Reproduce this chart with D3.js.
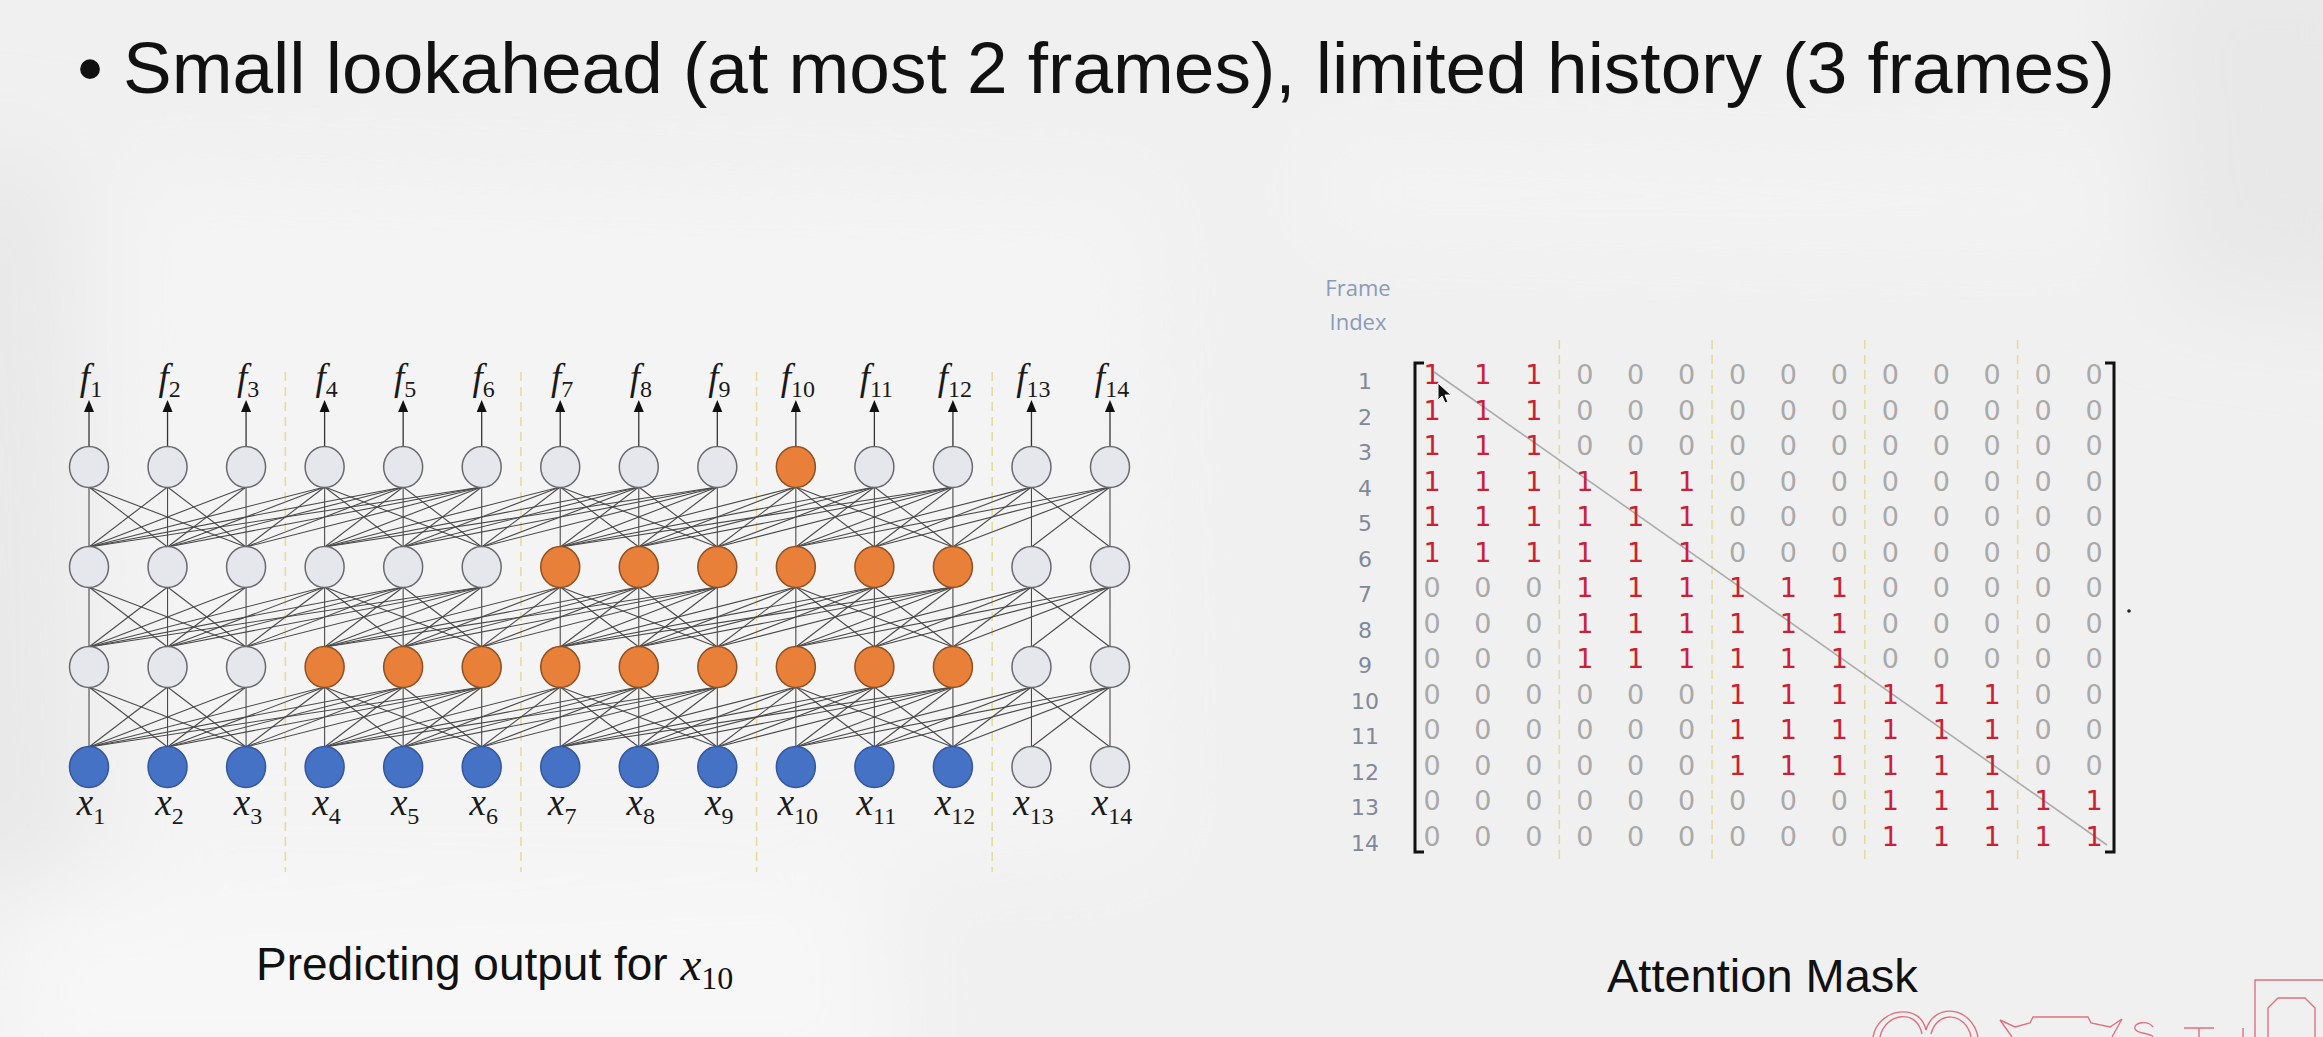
<!DOCTYPE html>
<html>
<head>
<meta charset="utf-8">
<script src="https://cdn.jsdelivr.net/npm/d3@7"></script>
<style>
  html, body { margin: 0; padding: 0; background: #f0f0f0; overflow: hidden; }
  svg { display: block; }
</style>
</head>
<body>
<div id="canvas-container"></div>
<script>
// frames and chunking (3 frames per chunk)
const frameIndex = [1, 2, 3, 4, 5, 6, 7, 8, 9, 10, 11, 12, 13, 14];
const chunkStarts = [4, 7, 10, 13];

// attention mask rows (1 = attend)
const maskRows = [
  "11100000000000",
  "11100000000000",
  "11100000000000",
  "11111100000000",
  "11111100000000",
  "11111100000000",
  "00011111100000",
  "00011111100000",
  "00011111100000",
  "00000011111100",
  "00000011111100",
  "00000011111100",
  "00000000011111",
  "00000000011111",
];

// node states per layer, bottom (input) to top: b = input used, o = used for x10, g = unused
const inputStates = "bbbbbbbbbbbbgg";
const hidden1States = "gggooooooooogg";
const hidden2States = "ggggggoooooogg";
const outputStates = "gggggggggogggg";
const layers = [inputStates, hidden1States, hidden2States, outputStates];

const titleText = "Small lookahead (at most 2 frames), limited history (3 frames)";
const leftCaption = "Predicting output for";
const rightCaption = "Attention Mask";

const W = 2323, H = 1037;
const fills = { b: "#4672c6", o: "#e9803a", g: "#e6e6ed" };
const strokes = { b: "#33569e", o: "#8e4f22", g: "#6a6a6e" };
const r = 20;

const svg = d3
  .select("#canvas-container")
  .append("svg")
  .attr("width", W)
  .attr("height", H);

// soft background variation (slide photo)
svg.append("defs")
  .append("filter")
  .attr("id", "soft")
  .attr("x", "-20%").attr("y", "-20%").attr("width", "140%").attr("height", "140%")
  .append("feGaussianBlur")
  .attr("stdDeviation", 45);
svg.append("rect").attr("width", W).attr("height", H).attr("fill", "#f0f0f0");
const bg = svg.append("g").attr("filter", "url(#soft)");
bg.append("path").attr("d", "M-60,150 L60,170 L70,880 L-60,900 Z").attr("fill", "#e8e8e8");
bg.append("path").attr("d", "M120,170 L1150,190 L1160,860 L130,880 Z").attr("fill", "#f4f4f4");
bg.append("path").attr("d", "M0,890 L880,870 L900,1100 L0,1100 Z").attr("fill", "#f7f7f7");
bg.append("path").attr("d", "M2140,-50 L2400,-50 L2400,320 L2170,290 Z").attr("fill", "#e8e8e8");
bg.append("path").attr("d", "M1320,150 L2120,170 L2110,240 L1320,230 Z").attr("fill", "#f4f4f4");

// title
svg.append("text")
  .attr("x", 90).attr("y", 93)
  .attr("text-anchor", "middle")
  .attr("font-family", "Liberation Sans, Arial, sans-serif")
  .attr("font-size", 73)
  .attr("fill", "#111")
  .text("\u2022");
svg.append("text")
  .attr("x", 123).attr("y", 93)
  .attr("font-family", "Liberation Sans, Arial, sans-serif")
  .attr("font-size", 73)
  .attr("fill", "#111")
  .text(titleText);

// ---------- network ----------
const xNet = d3.scaleLinear().domain([1, 14]).range([89, 1110]);
const yNet = d3.scalePoint().domain([0, 1, 2, 3]).range([767, 467]);

const net = svg.append("g");

// chunk separators
net.selectAll("line.sep")
  .data(chunkStarts)
  .enter()
  .append("line")
  .attr("class", "sep")
  .attr("x1", (d) => (xNet(d) + xNet(d - 1)) / 2)
  .attr("x2", (d) => (xNet(d) + xNet(d - 1)) / 2)
  .attr("y1", 372)
  .attr("y2", 872)
  .attr("stroke", "#e3dc9a")
  .attr("stroke-width", 1.6)
  .attr("stroke-dasharray", "9 6");

// edges from the mask: node i in layer l looks at node j in layer l-1
const edges = [];
for (let l = 1; l < layers.length; l++) {
  frameIndex.forEach((i) => {
    frameIndex.forEach((j) => {
      if (maskRows[i - 1][j - 1] === "1") edges.push({ l, i, j });
    });
  });
}

net.selectAll("line.edge")
  .data(edges)
  .enter()
  .append("line")
  .attr("class", "edge")
  .attr("x1", (d) => xNet(d.i))
  .attr("y1", (d) => yNet(d.l) + r)
  .attr("x2", (d) => xNet(d.j))
  .attr("y2", (d) => yNet(d.l - 1) - r)
  .attr("stroke", "#4a4a4a")
  .attr("stroke-width", 1.1);

// output arrows
net.selectAll("line.arrow")
  .data(frameIndex)
  .enter()
  .append("line")
  .attr("class", "arrow")
  .attr("x1", (d) => xNet(d))
  .attr("x2", (d) => xNet(d))
  .attr("y1", yNet(3) - r)
  .attr("y2", 410)
  .attr("stroke", "#333")
  .attr("stroke-width", 1.3);
net.selectAll("path.head")
  .data(frameIndex)
  .enter()
  .append("path")
  .attr("class", "head")
  .attr("d", (d) => `M${xNet(d) - 5},${412} L${xNet(d)},${400} L${xNet(d) + 5},${412} Z`)
  .attr("fill", "#111");

// nodes
const nodes = [];
layers.forEach((states, l) => {
  frameIndex.forEach((i) => nodes.push({ l, i, s: states[i - 1] }));
});
net.selectAll("ellipse.node")
  .data(nodes)
  .enter()
  .append("ellipse")
  .attr("class", "node")
  .attr("cx", (d) => xNet(d.i))
  .attr("cy", (d) => yNet(d.l))
  .attr("rx", r - 0.5)
  .attr("ry", r + 0.5)
  .attr("fill", (d) => fills[d.s])
  .attr("stroke", (d) => strokes[d.s])
  .attr("stroke-width", 1.5);

// f_i labels and x_i labels
const mathFont = "Liberation Serif, Times New Roman, serif";
const addSubLabel = (sel, base, y, dy) => {
  const t = sel
    .append("text")
    .attr("x", (d) => xNet(d) + 2)
    .attr("y", y)
    .attr("text-anchor", "middle")
    .attr("font-family", mathFont)
    .attr("fill", "#1a1a1a");
  t.append("tspan").attr("font-style", "italic").attr("font-size", 37).text(base);
  t.append("tspan").attr("font-size", 24).attr("dy", dy).text((d) => d);
};
addSubLabel(net.selectAll("g.f").data(frameIndex).enter().append("g").attr("class", "f"), "f", 390, 7);
addSubLabel(net.selectAll("g.x").data(frameIndex).enter().append("g").attr("class", "x"), "x", 815, 9);

// caption left
const cap = svg.append("text")
  .attr("x", 256).attr("y", 980)
  .attr("fill", "#111");
cap.append("tspan")
  .attr("font-family", "Liberation Sans, Arial, sans-serif")
  .attr("font-size", 46)
  .text(leftCaption + " ");
cap.append("tspan")
  .attr("font-family", mathFont)
  .attr("font-style", "italic")
  .attr("font-size", 47)
  .text("x");
cap.append("tspan")
  .attr("font-family", mathFont)
  .attr("font-size", 32)
  .attr("dy", 9)
  .text("10");

// ---------- attention mask ----------
const xMat = d3.scaleLinear().domain([1, 14]).range([1432, 2094]);
const yMat = d3.scaleLinear().domain([1, 14]).range([374, 836]);
const mat = svg.append("g");
const digitFont = "DejaVu Sans, sans-serif";

mat.selectAll("line.msep")
  .data(chunkStarts)
  .enter()
  .append("line")
  .attr("class", "msep")
  .attr("x1", (d) => (xMat(d) + xMat(d - 1)) / 2)
  .attr("x2", (d) => (xMat(d) + xMat(d - 1)) / 2)
  .attr("y1", 340)
  .attr("y2", 862)
  .attr("stroke", "#e3dc9a")
  .attr("stroke-width", 1.6)
  .attr("stroke-dasharray", "9 6");

// diagonal
mat.append("line")
  .attr("x1", xMat(1) + 2).attr("y1", yMat(1) - 2)
  .attr("x2", xMat(14) + 13).attr("y2", yMat(14) + 9)
  .attr("stroke", "#9c9c9c")
  .attr("stroke-width", 1.6)
  .attr("opacity", 0.8);

const cells = [];
maskRows.forEach((row, ri) => {
  row.split("").forEach((v, ci) => cells.push({ r: frameIndex[ri], c: frameIndex[ci], v }));
});
mat.selectAll("text.cell")
  .data(cells)
  .enter()
  .append("text")
  .attr("class", "cell")
  .attr("x", (d) => xMat(d.c))
  .attr("y", (d) => yMat(d.r) + 10)
  .attr("text-anchor", "middle")
  .attr("font-family", digitFont)
  .attr("font-size", 27)
  .attr("fill", (d) => (d.v === "1" ? "#cc1f35" : "#a9a9a9"))
  .text((d) => d.v);

// row labels
mat.selectAll("text.rowlab")
  .data(frameIndex)
  .enter()
  .append("text")
  .attr("class", "rowlab")
  .attr("x", 1365)
  .attr("y", (d) => yMat(d) + 15)
  .attr("text-anchor", "middle")
  .attr("font-family", digitFont)
  .attr("font-size", 22)
  .attr("fill", "#80889a")
  .text((d) => d);

// Frame Index heading
mat.append("text")
  .attr("x", 1358).attr("y", 296)
  .attr("text-anchor", "middle")
  .attr("font-family", "Open Sans, sans-serif")
  .attr("font-size", 22)
  .attr("fill", "#8a9bb6")
  .text("Frame");
mat.append("text")
  .attr("x", 1358).attr("y", 330)
  .attr("text-anchor", "middle")
  .attr("font-family", "Open Sans, sans-serif")
  .attr("font-size", 22)
  .attr("fill", "#8a9bb6")
  .text("Index");

// brackets
mat.append("path")
  .attr("d", "M1424,363 H1415 V852 H1424")
  .attr("fill", "none").attr("stroke", "#111").attr("stroke-width", 3);
mat.append("path")
  .attr("d", "M2105,363 H2114 V852 H2105")
  .attr("fill", "none").attr("stroke", "#111").attr("stroke-width", 3);
mat.append("circle").attr("cx", 2129).attr("cy", 611).attr("r", 1.8).attr("fill", "#222");

// mouse pointer
mat.append("path")
  .attr("d", "M1438,383 L1438,400 L1442,396 L1445,403 L1448,402 L1445,395 L1451,395 Z")
  .attr("fill", "#111").attr("stroke", "#fff").attr("stroke-width", 1);

svg.append("text")
  .attr("x", 1607).attr("y", 992)
  .attr("font-family", "Liberation Sans, Arial, sans-serif")
  .attr("font-size", 47)
  .attr("fill", "#111")
  .text(rightCaption);

// watermark logo (bottom right, cut off)
const logo = svg.append("g").attr("fill", "none").attr("stroke", "#df7080").attr("stroke-width", 1.4);
logo.append("path").attr("d", "M1873,1037 C1878,1008 1920,1002 1926,1030 C1934,1002 1972,1006 1978,1037");
logo.append("path").attr("d", "M1880,1037 C1885,1013 1917,1008 1922,1034 M1931,1034 C1937,1010 1966,1012 1971,1037");
logo.append("path").attr("d", "M2000,1020 L2015,1027 L2030,1023 L2033,1017 L2088,1017 L2091,1023 L2110,1027 L2122,1019 L2112,1037 M2012,1037 L2000,1020");
logo.append("path").attr("d", "M2153,1027 C2148,1020 2133,1022 2135,1029 C2137,1034 2152,1033 2153,1037");
logo.append("path").attr("d", "M2184,1028 H2214 M2199,1028 V1037");
logo.append("path").attr("d", "M2243,1028 V1037");
logo.append("path").attr("d", "M2255,1037 V980 H2323");
logo.append("path").attr("d", "M2268,1037 V1008 L2278,998 H2305 L2315,1008 V1037");
</script>
</body>
</html>
